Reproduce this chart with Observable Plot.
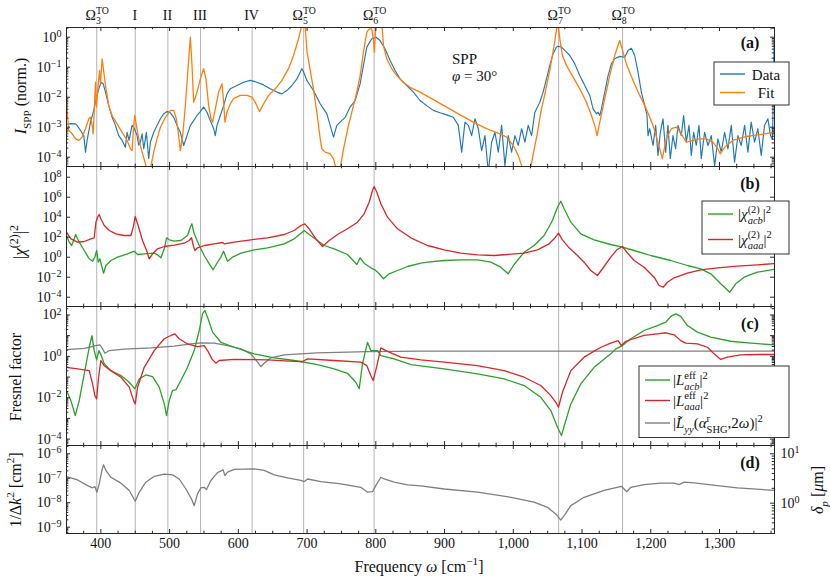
<!DOCTYPE html>
<html><head><meta charset="utf-8">
<script src="https://cdn.jsdelivr.net/npm/d3@7"></script>
<script src="https://cdn.jsdelivr.net/npm/@observablehq/plot@0.6"></script>
<style>
body{margin:0;background:#fff;}
#wrap{position:relative;width:830px;height:581px;overflow:hidden;background:#fff;font-family:"Liberation Serif", serif;}
</style></head><body><div id="wrap"></div>
<script>
// ---------------- data ----------------
const markerFreqs = [394, 450, 497.5, 545, 620, 695, 797.5, 1066, 1159];
const markerNames = ["Ω3", "I", "II", "III", "IV", "Ω5", "Ω6", "Ω7", "Ω8"];
const xTickValues = [400, 500, 600, 700, 800, 900, 1000, 1100, 1200, 1300];

// (a) SPP intensity (normalized), stored as log10 values
const aDataFreq = [
350,356,363,365.5,370.4,375.2,377.6,380,384.9,389.7,
393.1,397,400.4,403.3,406.7,411.5,416.4,421.2,426,430.9,
435.7,438.2,441,445.4,448.8,452.7,455,457.5,460,462.4,
466.2,469.6,472,476.9,481.7,486.6,491.4,496.3,501.1,506,
510.8,515.6,520.5,525.3,530.2,535,539.9,544.7,549.5,554.4,
559.2,564.1,566.5,568.9,573.8,578.6,583.5,588.3,598,607.7,
617.4,627,636.7,646.4,656.1,663.4,670.6,677.9,685.2,692.4,
694.8,699.7,704.5,709.4,714.2,719.1,723.9,728.7,733.6,738.4,
743.3,748.1,755.4,762.6,769.9,777.2,782,786.9,794.1,800.4,
806.2,813.5,820.8,828,835.3,845,854.7,864.3,874,883.7,
893.4,903.1,912.8,920,924.9,929.7,934.6,939.4,944.3,949.1,
953.9,958.8,963.6,968.5,973.3,978.2,983,987.8,992.7,997.5,
1002.4,1007.2,1012.1,1016.9,1021.7,1026.6,1031.4,1036.3,1038.6,1043.4,
1048.3,1053.1,1058,1062.8,1065.2,1070.1,1074.9,1082.2,1089.5,1096.7,
1104,1111.2,1116.1,1120.9,1123.4,1125.8,1128.2,1133.1,1137.9,1142.7,
1147.6,1154.8,1162.1,1166.9,1171.8,1176.6,1181.5,1186.3,1191.2,1194.5,
1196,1198.4,1203.3,1207.1,1210.5,1213.9,1217.8,1221.7,1225,1228.4,
1232.3,1236.2,1239.6,1244.4,1247.8,1251.7,1255.6,1259,1262.4,1266.2,
1270.1,1273.5,1278.3,1283.2,1288,1292.9,1297.7,1302.5,1307.4,1312.2,
1317.1,1321.9,1326.8,1331.6,1336.5,1341.3,1346.1,1351,1355.8,1360.7,
1365.5,1370.4,1374.2,1377,1379.5];
const aDataLog = [
-2.91,-2.88,-2.89,-2.94,-3.11,-3.28,-3.83,-3.44,-2.83,-2.44,
-2.05,-1.72,-1.5,-1.55,-1.83,-2.28,-2.67,-2.94,-3.28,-3.44,
-3.67,-3.17,-3.44,-2.94,-3.05,-3.28,-3.6,-3.5,-3.22,-3.72,
-3.17,-4.05,-3.5,-3.17,-2.94,-2.72,-2.55,-2.48,-2.52,-2.67,
-2.94,-3.17,-3.61,-3.28,-2.94,-2.78,-2.61,-2.48,-2.33,-2.5,
-2.78,-3.05,-3.28,-2.94,-2.61,-2.28,-1.89,-1.72,-1.61,-1.5,
-1.44,-1.5,-1.59,-1.72,-1.83,-1.89,-1.78,-1.61,-1.39,-1.05,
-1.15,-1.44,-1.61,-1.78,-2.0,-2.22,-2.39,-2.55,-2.94,-3.33,
-2.94,-2.83,-2.67,-2.33,-2.11,-1.55,-0.94,-0.33,-0.05,0.0,
-0.11,-0.39,-0.78,-1.11,-1.39,-1.61,-1.83,-2.11,-2.28,-2.44,
-2.52,-2.59,-2.67,-2.94,-3.83,-2.83,-2.94,-3.28,-2.72,-3.05,
-3.78,-3.28,-4.5,-3.5,-3.17,-3.83,-2.94,-4.28,-3.28,-3.83,
-3.28,-3.61,-3.05,-3.5,-2.94,-3.28,-2.5,-2.28,-2.17,-1.83,
-1.39,-0.94,-0.55,-0.33,-0.3,-0.33,-0.44,-0.61,-0.89,-1.28,
-1.61,-1.94,-2.39,-2.55,-2.5,-2.61,-2.39,-1.83,-1.28,-0.89,
-0.72,-0.64,-0.67,-0.44,-0.37,-0.61,-1.17,-1.83,-2.28,-2.61,
-3.28,-3.05,-3.61,-2.94,-3.94,-3.17,-2.72,-3.83,-2.94,-4.05,
-3.28,-3.72,-2.94,-3.28,-2.61,-3.5,-2.94,-3.94,-3.17,-3.61,
-2.94,-4.05,-3.17,-3.61,-3.28,-4.28,-3.39,-3.83,-3.17,-3.72,
-2.94,-4.17,-3.28,-3.61,-2.94,-3.83,-2.83,-3.5,-3.05,-3.94,
-2.94,-2.72,-3.28,-3.4,-0.1];

const aFitFreq = [
350,351,353.4,358.3,363.1,368,372.8,377.6,382.5,384.9,
387.3,388.8,390.7,392.2,393.6,396,398,399.4,401.8,404.3,
406.7,411.5,416.4,423.6,430.9,438.2,443,445.4,447.8,449.3,
451.7,455.1,460,464.8,468.2,473,476.9,481.7,486.6,493.9,
501.1,506,509.8,513.2,515.6,519,522.9,527.8,530.2,532.6,
535,539.9,544.7,549.5,552.9,556.8,560.2,562.6,566.5,571.3,
576.2,578.6,580.5,583.5,588.3,593.1,602.8,612.5,619.8,624.6,
630.9,636.7,644,653.7,663.4,673,680.3,687.6,691,694,
697,700,704.5,709.4,714.2,719.1,721.5,726.3,733.6,738.4,
743.3,747.1,753,760.2,767.5,772.3,777.2,782,786.9,790.5,
794.1,796.5,798,799.5,801.4,808.7,811.1,815.9,823.2,830.4,
840.1,849.8,864.3,883.7,903.1,922.5,941.8,961.2,980.6,990.3,
1000,1007.2,1012.1,1014.5,1024.2,1029,1035,1040,1045.9,1053.1,
1058.9,1062.8,1065.2,1067.7,1071.5,1077.3,1087,1096.7,1106.4,1113.7,
1118.5,1121.9,1125.8,1133.1,1140.3,1147.6,1154.8,1159.7,1164.5,1174.2,
1183.9,1193.6,1203.3,1210.5,1216.8,1222.6,1229.9,1237.2,1244.4,1251.7,
1261.4,1271.1,1280.8,1290.4,1297.7,1301,1307.4,1319.5,1338.9,1358.2,
1375,1380];
const aFitLog = [
-1.72,-2.5,-3.11,-3.22,-3.39,-3.44,-3.33,-3.05,-2.72,-2.67,
-2.94,-3.22,-2.28,-1.5,-2.33,-1.61,-1.11,-1.55,-0.72,-1.17,
-1.61,-2.28,-2.61,-2.89,-3.17,-3.44,-3.72,-3.78,-2.94,-2.61,
-2.94,-3.39,-3.83,-4.22,-4.5,-4.28,-3.83,-3.39,-3.0,-2.67,
-2.44,-2.44,-2.72,-3.28,-3.78,-3.28,-2.28,-0.72,0.0,-0.94,
-2.17,-1.83,-1.39,-1.05,-1.39,-2.28,-2.72,-2.83,-2.39,-1.83,
-1.55,-2.17,-2.83,-2.5,-2.22,-2.05,-1.94,-1.94,-2.0,-2.17,
-2.48,-2.22,-1.94,-1.72,-1.44,-1.05,-0.61,-0.05,0.28,0.6,
0.4,-0.5,-1.1,-1.75,-2.5,-3.39,-3.72,-3.83,-3.89,-4.05,
-4.5,-4.5,-3.72,-2.94,-2.28,-1.83,-1.28,-0.5,0.17,0.28,
0.28,-0.1,-0.5,0.2,0.5,0.5,-0.28,-0.72,-1.05,-1.28,
-1.5,-1.67,-1.83,-2.08,-2.33,-2.59,-2.83,-3.05,-3.22,-3.33,
-3.61,-3.94,-4.28,-4.5,-4.5,-3.9,-3.2,-2.5,-1.9,-1.1,
-0.35,0.25,0.45,-0.05,-0.61,-0.94,-1.33,-1.72,-2.17,-2.61,
-2.94,-3.28,-2.83,-2.05,-1.28,-0.61,-0.11,-0.5,-0.89,-1.44,
-1.94,-2.39,-2.94,-3.5,-4.05,-3.39,-3.05,-3.0,-3.22,-3.5,
-3.44,-3.39,-3.39,-3.5,-3.72,-3.89,-3.67,-3.44,-3.31,-3.25,
-3.19,-3.17];

// (b) |chi(2)|^2, log10 values
const bAcbFreq = [
350,354,357.4,360.3,363.2,368.5,375.8,383.1,387.9,391.3,
393.8,396.2,398.6,401,403.9,407.3,414.6,424.3,438.8,448.5,
453.4,463.1,477.6,482.5,487.3,492.2,495.6,499.4,506.7,516.4,
526.1,530,532.4,535.8,543.1,550.3,557.6,563.4,568.8,574.6,
578.5,581.9,584.3,591.5,603.7,623.1,642.5,666.7,681.2,691,
695.8,703,715.2,724.9,739.4,758.8,772.4,777.2,783,792.7,
798.6,804.9,811.2,819.4,831.5,846.1,865.5,875.2,899.4,923.7,
948,967.3,981.8,992.5,1001.2,1015.8,1030.3,1044.9,1057,1064.3,
1069.1,1074,1083.7,1098.2,1117.6,1141.8,1158.8,1175.8,1200,1229.1,
1253.3,1272.7,1287.3,1301.8,1314.9,1323.6,1335.8,1355.1,1380];
const bAcbLog = [
2.17,1.5,1.17,1.67,2.27,1.5,0.67,-0.16,-0.4,0.0,
0.67,-0.5,-0.16,-0.83,-1.6,-0.83,-0.33,0.0,0.34,0.6,
0.27,0.34,0.4,0.24,-0.06,0.84,1.94,1.74,1.6,1.67,
2.17,3.0,3.34,2.34,1.17,0.17,-0.66,-1.26,-0.6,0.0,
0.6,0.0,-0.4,0.0,0.4,0.74,0.94,1.34,1.84,2.4,
2.67,2.27,1.67,1.17,0.84,0.27,-0.73,-0.06,-0.6,-1.06,
-1.26,-1.66,-2.16,-1.66,-1.33,-0.93,-0.6,-0.5,-0.33,-0.26,
-0.26,-0.5,-1.0,-1.66,-0.73,0.5,1.17,2.17,3.67,5.0,
5.6,4.84,3.5,2.34,1.74,1.27,1.0,0.67,0.17,-0.33,
-0.83,-1.16,-1.66,-2.66,-3.5,-2.66,-2.0,-1.5,-1.2];
const bAaaFreq = [
350,356.4,366.1,375.8,385.5,390.3,392.8,395.2,397.6,400,
404.9,412.2,421.9,434,443.7,447.1,450,453.4,460.6,466.5,
470.3,475.2,482.5,492.2,506.7,521.3,528.5,531.9,534.8,536.8,
540.6,550.3,564.9,577,579.4,594,618.2,642.5,666.7,681.2,
691,696.8,703,712.8,722.4,732.2,744.3,758.8,773.3,783,
790.3,795.2,797.6,801.5,807.3,817,831.5,850.9,875.2,899.4,
923.7,948,972.2,991.5,1015.8,1035.2,1052.1,1059.4,1065.7,1071.5,
1081.2,1093.4,1103,1112.7,1122.4,1132.1,1141.8,1150.6,1158.8,1165.1,
1175.8,1190.3,1204.9,1212.1,1218,1224.3,1233.9,1253.3,1272.7,1297,
1326,1355.1,1380];
const bAaaLog = [
2.5,1.84,1.5,1.57,1.84,1.94,3.5,4.0,4.27,3.84,
3.17,2.67,2.34,2.17,2.17,3.0,4.07,3.34,1.67,0.67,
-0.16,0.34,0.84,1.07,1.2,1.4,1.67,1.94,1.07,0.67,
0.94,1.17,1.34,1.47,1.34,1.5,1.74,1.94,2.27,2.67,
3.17,3.34,2.84,1.84,1.07,1.67,2.27,2.84,3.5,4.34,
5.5,6.67,7.07,6.5,5.34,4.0,2.84,1.94,1.17,0.74,
0.4,0.24,0.17,0.27,0.4,0.74,1.34,1.84,2.4,1.74,
0.94,0.17,-0.5,-1.33,-1.83,-0.93,0.0,0.74,1.07,0.5,
-0.33,-1.0,-2.0,-2.83,-3.0,-2.5,-2.06,-1.6,-1.26,-1.06,
-0.9,-0.76,-0.64];

// (c) Fresnel factors, log10 values
const cAcbFreq = [
350,356.4,362.7,368.5,375.8,383.1,387,390.3,393.8,397.1,
400,404.9,414.6,429.2,441.3,449.5,455.8,465.5,475.2,484.9,
492.2,495.6,499.4,504.3,509.1,516.4,526.1,535.8,543.1,547.9,
551.3,555.2,562.5,574.6,594,623.1,652.2,681.2,715.2,739.4,
758.8,770.9,775.8,780.6,787.9,792.7,797.6,802.5,807.3,826.7,
851,899.4,948,986.7,1015.8,1040,1054.6,1064.3,1070.1,1074.9,
1083.7,1098.2,1117.6,1141.8,1149.1,1158.8,1171,1190.3,1209.7,1221.8,
1229.1,1236.4,1243.6,1253.3,1267.9,1287.3,1316.3,1345.5,1380];
const cAcbLog = [
-1.65,-2.14,-2.86,-2.14,-0.85,0.44,1.0,0.28,-0.17,0.28,
0.09,-0.36,-0.69,-0.93,-1.25,-1.57,-1.09,-0.9,-0.98,-1.49,
-2.3,-2.86,-2.14,-1.65,-1.62,-1.17,-0.53,0.28,1.25,2.05,
2.22,1.89,1.17,0.68,0.44,0.12,-0.07,-0.2,-0.4,-0.61,
-0.82,-1.25,-1.57,-0.36,0.68,0.28,0.28,0.28,0.04,-0.12,
-0.4,-0.61,-0.85,-1.09,-1.41,-1.98,-2.62,-3.43,-3.83,-3.27,
-2.3,-1.33,-0.53,0.12,0.36,0.52,0.85,1.25,1.49,1.65,
1.93,2.05,1.93,1.49,1.17,0.93,0.73,0.64,0.55];
const cAaaFreq = [
350,366.1,383.1,387.9,391.3,393.8,396.7,400,404.9,414.6,
429.2,441.3,447.6,450,453.4,463.1,477.6,492.2,501.9,507.7,
514,526.1,540.6,550.3,555.2,561.5,567.3,572.1,594,642.5,
681.2,693.4,700.6,739.4,778.2,786.9,792.7,796.1,801,807.3,
814.6,836.4,865.5,899.4,948,986.7,1015.8,1040,1054.6,1061.8,
1065.7,1071.5,1083.7,1103,1127.3,1141.8,1152.5,1157.3,1163.6,1190.3,
1209.7,1221.8,1234,1243.6,1251,1267.9,1282.4,1292.1,1301.8,1311.5,
1330.9,1355.1,1380];
const cAaaLog = [
-0.53,-0.61,-0.69,-1.33,-1.9,-2.06,-1.01,-0.2,-0.45,-0.69,
-1.01,-1.49,-2.14,-2.3,-1.49,-0.53,0.28,0.85,1.01,1.09,
0.85,0.6,0.47,0.52,0.28,-0.12,-0.33,-0.2,-0.15,-0.17,
-0.24,-0.25,-0.12,-0.2,-0.28,-0.45,-0.93,-1.17,-0.53,0.41,
0.28,-0.04,-0.17,-0.28,-0.45,-0.69,-1.01,-1.41,-1.9,-2.22,
-2.46,-1.74,-0.69,-0.04,0.44,0.64,0.76,0.52,0.73,1.01,
1.09,1.14,1.04,0.76,0.64,0.6,0.44,0.12,-0.15,-0.04,
0.07,0.09,0.09];
const cYyFreq = [350,375.8,392.8,398.6,402.5,405.9,412.2,434,472.8,506.7,530.9,545.5,564.9,584.3,603.7,618.2,627.9,632.8,637.6,647.3,666.7,715.2,787.9,865.5,1000,1200,1380];
const cYyLog = [0.33,0.39,0.52,0.55,0.36,0.15,0.28,0.35,0.41,0.49,0.6,0.65,0.64,0.52,0.36,0.12,-0.28,-0.49,-0.33,-0.07,0.07,0.17,0.23,0.25,0.25,0.25,0.25];

// (d) 1/Δk^2 [cm^2], log10 values
const dFreq = [
350,366.1,380.7,387.9,391.3,394.2,397.6,401.5,403.9,407.3,
414.6,429.2,441.3,450,455.8,465.5,477.6,492.2,504.3,514,
523.7,531.9,535.8,540.6,545.5,550.3,553.7,560,569.7,577.9,
580.4,584.3,594,623.1,637.6,652.2,671.6,691,695.8,700.6,
720.1,749.1,778.2,787.9,795.2,800,807.3,812.2,826.7,846.1,
865.5,899.4,948,996.4,1030.3,1049.7,1061.8,1069.1,1074,1083.7,
1103,1132.1,1157.3,1161.2,1165.1,1170.9,1190.3,1214.6,1233.9,1241.2,
1248.5,1263,1287.3,1326,1380];
const dLog = [
-6.93,-7.07,-7.3,-7.39,-7.34,-7.57,-7.23,-6.68,-6.45,-6.68,
-6.96,-7.2,-7.5,-7.94,-7.57,-7.16,-6.92,-6.83,-6.86,-7.03,
-7.44,-7.85,-8.12,-7.64,-7.39,-7.37,-7.46,-7.09,-6.77,-6.66,
-6.89,-6.75,-6.64,-6.62,-6.68,-6.86,-6.98,-7.09,-7.14,-7.03,
-7.14,-7.23,-7.37,-7.57,-7.55,-7.3,-6.96,-7.03,-7.16,-7.27,
-7.31,-7.44,-7.57,-7.78,-7.98,-8.19,-8.46,-8.71,-8.53,-8.12,
-7.78,-7.5,-7.33,-7.44,-7.55,-7.37,-7.26,-7.2,-7.2,-7.26,
-7.16,-7.19,-7.27,-7.39,-7.5];
// right axis of (d): penetration depth δp [μm]
const deltaMajor = [1, 10];
const deltaMinor = [0.3,0.4,0.5,0.6,0.7,0.8,0.9,2,3,4,5,6,7,8,9];

const COLORS = {blue:"#1f77b4", orange:"#ff7f0e", green:"#2ca02c", red:"#d62728", gray:"#7f7f7f"};

// ---------------- helpers ----------------
const wrap = document.getElementById("wrap");
const FONT = "Liberation Serif";
const W = 830, ML = 66, MR = 56;
const xDomain = [350, 1380];
const xMinor = d3.range(375, 1380, 25).filter(v => v % 100 !== 0);
const table = (f, l) => f.map((x, i) => ({x, y: 10 ** l[i]}));
const expFmt = d => "10^" + Math.round(Math.log10(d));
function decadeTicks(lo, hi) { const o = []; for (let e = Math.ceil(lo); e <= Math.floor(hi); e++) o.push(10 ** e); return o; }
function minorTicks(lo, hi) { const o = []; for (let e = Math.floor(lo) - 1; e <= Math.ceil(hi); e++) for (let k = 2; k <= 9; k++) { const lv = Math.log10(k) + e; if (lv > lo && lv < hi) o.push(10 ** lv); } return o; }
const dToL = d => 10 ** (-8.02 + 2.02 * Math.log10(d));

function supify(svg) {
  d3.select(svg).selectAll("text").attr("font-family", FONT).each(function () {
    const m = /^10\^(-?\d+)$/.exec(this.textContent);
    if (!m) return;
    const el = d3.select(this); el.text(null);
    el.append("tspan").text("10");
    el.append("tspan").attr("dy", "-0.48em").attr("font-size", "0.72em").text(m[1].replace("-", "−"));
  });
}

function makePanel(o) {
  const {top, height, mt = 0, mb = 0, yExp, labeled, major, minor, rMajor = major, rMinor = minor, series, extra = [], showX = false} = o;
  const ih = height - mt - mb, iw = W - ML - MR;
  const stroke = "#262626";
  const marks = [
    Plot.ruleX(markerFreqs, {stroke: "#b4b4b4", strokeWidth: 1}),
    ...series.map(s => Plot.line(s.data, {x: "x", y: "y", stroke: s.color, strokeWidth: s.w ?? 1.3, clip: true})),
    Plot.frame({stroke}),
    Plot.tickX(xTickValues, {insetTop: ih - 4, stroke}),
    Plot.tickX(xTickValues, {insetBottom: ih - 4, stroke}),
    Plot.tickX(xMinor, {insetTop: ih - 2.3, stroke}),
    Plot.tickX(xMinor, {insetBottom: ih - 2.3, stroke}),
    Plot.tickY(major, {insetRight: iw - 4, stroke}),
    Plot.tickY(minor, {insetRight: iw - 2.3, stroke}),
    Plot.tickY(rMajor, {insetLeft: iw - 4, stroke}),
    Plot.tickY(rMinor, {insetLeft: iw - 2.3, stroke}),
    Plot.axisY(labeled, {anchor: "left", tickSize: 0, tickPadding: 5, tickFormat: expFmt, label: null}),
    ...extra
  ];
  if (showX) marks.push(Plot.axisX(xTickValues, {anchor: "bottom", tickSize: 0, tickPadding: 5, tickFormat: d3.format(","), label: null}));
  const p = Plot.plot({
    width: W, height, marginTop: mt, marginBottom: mb, marginLeft: ML, marginRight: MR,
    x: {domain: xDomain, axis: showX ? undefined : null, label: null},
    y: {type: "log", domain: [10 ** yExp[0], 10 ** yExp[1]], label: null},
    style: {fontFamily: FONT, fontSize: "14px", color: "#111", background: "transparent", overflow: "visible", position: "absolute", left: "0px", top: top + "px"},
    marks
  });
  wrap.appendChild(p);
  supify(p);
  return p;
}

// ---------------- panels ----------------
const aExp = [-4.31, 0.323];
const plotA = makePanel({top: 0, height: 166, mt: 27, yExp: aExp,
  labeled: decadeTicks(...aExp), major: decadeTicks(...aExp), minor: minorTicks(...aExp),
  series: [{data: table(aDataFreq, aDataLog), color: COLORS.blue, w: 1.15}, {data: table(aFitFreq, aFitLog), color: COLORS.orange}]});

const bExp = [-4.93, 9.07];
const bMajor = [-4, -2, 0, 2, 4, 6, 8].map(e => 10 ** e);
makePanel({top: 166, height: 140, yExp: bExp, labeled: bMajor, major: bMajor, minor: [],
  series: [{data: table(bAcbFreq, bAcbLog), color: COLORS.green}, {data: table(bAaaFreq, bAaaLog), color: COLORS.red}]});

const cExp = [-4.31, 2.41];
makePanel({top: 306, height: 139, yExp: cExp, labeled: [-4, -2, 0, 2].map(e => 10 ** e),
  major: decadeTicks(...cExp), minor: minorTicks(...cExp),
  series: [{data: table(cYyFreq, cYyLog), color: COLORS.gray}, {data: table(cAcbFreq, cAcbLog), color: COLORS.green}, {data: table(cAaaFreq, cAaaLog), color: COLORS.red}]});

const dExp = [-9.26, -5.66];
makePanel({top: 445, height: 136, mb: 48, yExp: dExp, labeled: decadeTicks(...dExp),
  major: decadeTicks(...dExp), minor: minorTicks(...dExp),
  rMajor: deltaMajor.map(dToL), rMinor: deltaMinor.map(dToL),
  series: [{data: table(dFreq, dLog), color: COLORS.gray}],
  extra: [Plot.axisY(deltaMajor.map(dToL), {anchor: "right", tickSize: 0, tickPadding: 6, label: null,
    tickFormat: d => "10^" + Math.round((Math.log10(d) + 8.02) / 2.02)})],
  showX: true});

// ---------------- overlay: titles, annotations, legends ----------------
const ov = d3.select(wrap).append("svg").attr("width", W).attr("height", 581)
  .style("position", "absolute").style("left", "0px").style("top", "0px").style("overflow", "visible")
  .attr("font-family", FONT).attr("fill", "#111");

function rich(x, y, parts, {size = 15, anchor = "start", rotate = 0, weight = null} = {}) {
  const t = ov.append("text").attr("x", x).attr("y", y).attr("font-size", size).attr("text-anchor", anchor).attr("font-family", FONT);
  if (weight) t.attr("font-weight", weight);
  if (rotate) t.attr("transform", `rotate(${rotate},${x},${y})`);
  let shift = 0, lastLen = 0, pending = 0;
  for (const p of parts) {
    const [s, k = ""] = typeof p === "string" ? [p] : p;
    const f = k.split(" ");
    let target = 0, fs = size;
    if (f.includes("sub")) { target = size * 0.3; fs = size * 0.7; }
    if (f.includes("sup")) { target = -size * 0.42; fs = size * 0.7; }
    const ts = t.append("tspan").text(s).attr("font-size", fs);
    if (target !== shift) ts.attr("dy", target - shift);
    if (f.includes("i")) ts.attr("font-style", "italic");
    const len = ts.node().getComputedTextLength();
    if (f.includes("stack")) {
      ts.attr("dx", -lastLen);
      pending = Math.max(0, lastLen - len);
    } else {
      if (pending) ts.attr("dx", pending);
      pending = 0;
    }
    shift = target; lastLen = len;
  }
  return t;
}

// top marker labels
const xs = plotA.scale("x");
markerNames.forEach((n, i) => {
  const x = xs.apply(markerFreqs[i]);
  if (n.startsWith("Ω")) rich(x + 1, 20, ["Ω", [n.slice(1), "sub"], ["TO", "sup stack"]], {size: 14, anchor: "middle"});
  else rich(x, 20, [n], {size: 14, anchor: "middle"});
});

// axis titles
rich(26, 96, [["I", "i"], ["SPP", "sub"], " (norm.)"], {size: 16, anchor: "middle", rotate: -90});
rich(25, 242, ["|", ["χ", "i"], ["(2)", "sup"], "|", ["2", "sup"]], {size: 17, anchor: "middle", rotate: -90});
rich(21, 377, ["Fresnel factor"], {size: 16, anchor: "middle", rotate: -90});
rich(21, 490, ["1/Δ", ["k", "i"], ["2", "sup"], " [cm", ["2", "sup"], "]"], {size: 16, anchor: "middle", rotate: -90});
rich(823, 490, [["δ", "i"], ["p", "sub i"], " [", ["μ", "i"], "m]"], {size: 16, anchor: "middle", rotate: -90});
rich(419, 572, ["Frequency ", ["ω", "i"], " [cm", ["−1", "sup"], "]"], {size: 16, anchor: "middle"});

// panel tags
[["(a)", 48], ["(b)", 189], ["(c)", 329], ["(d)", 468]].forEach(([s, y]) => rich(750, y, [s], {size: 16, anchor: "middle", weight: "bold"}));

// annotation
rich(452, 64, ["SPP"], {size: 15});
rich(452, 81, [["φ", "i"], " = 30°"], {size: 15});

// legends
function box(x, y, w, h) { ov.append("rect").attr("x", x).attr("y", y).attr("width", w).attr("height", h).attr("fill", "white").attr("stroke", "#333").attr("stroke-width", 1); }
function key(x1, x2, y, c) { ov.append("line").attr("x1", x1).attr("x2", x2).attr("y1", y).attr("y2", y).attr("stroke", c).attr("stroke-width", 1.4); }

box(714, 62, 75, 43);
key(720, 745, 74, COLORS.blue); rich(766, 79.5, ["Data"], {anchor: "middle"});
key(720, 745, 92.5, COLORS.orange); rich(766, 97.5, ["Fit"], {anchor: "middle"});

box(702, 201, 87, 53);
key(708, 733, 214, COLORS.green);
rich(738, 219, ["|", ["χ", "i"], ["acb", "sub i"], ["(2)", "sup stack"], "|", ["2", "sup"]]);
key(708, 733, 239.5, COLORS.red);
rich(738, 244.5, ["|", ["χ", "i"], ["aaa", "sub i"], ["(2)", "sup stack"], "|", ["2", "sup"]]);

box(639, 366, 150, 71.5);
key(645, 670, 380, COLORS.green);
rich(673, 385, ["|", ["L", "i"], ["acb", "sub i"], ["eff", "sup stack"], "|", ["2", "sup"]]);
key(645, 670, 400.5, COLORS.red);
rich(673, 405.5, ["|", ["L", "i"], ["aaa", "sub i"], ["eff", "sup stack"], "|", ["2", "sup"]]);
key(645, 670, 423, COLORS.gray);
rich(673, 428, ["|", ["L̃", "i"], ["yy", "sub i"], "(", ["α", "i"], ["SHG", "sub"], ["r", "sup stack"], ",2", ["ω", "i"], ")|", ["2", "sup"]]);
</script></body></html>
